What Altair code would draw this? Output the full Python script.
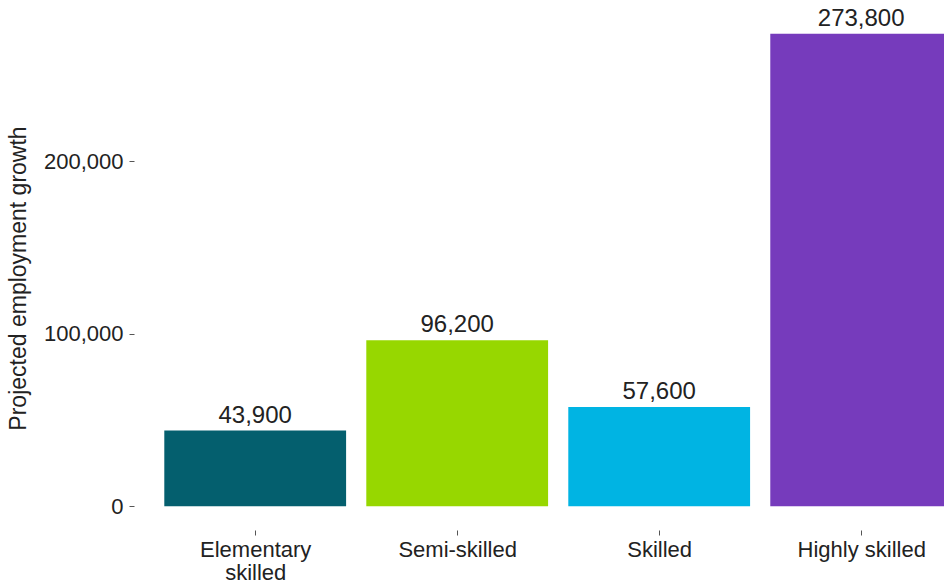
import altair as alt
import pandas as pd
import json

categories = ["Elementary\nskilled", "Semi-skilled", "Skilled", "Highly skilled"]
values = [43900, 96200, 57600, 273800]
value_labels = ["43,900", "96,200", "57,600", "273,800"]
colors = ["#045F6E", "#97D700", "#00B4E3", "#763BBC"]
y_ticks = [0, 100000, 200000]

df = pd.DataFrame({
    "idx": list(range(len(categories))),
    "cat": categories,
    "value": values,
    "label": value_labels,
    "color": colors,
})
df["x0"] = df["idx"] - 0.45
df["x1"] = df["idx"] + 0.45

label_arr = json.dumps([c.split("\n") for c in categories])
label_expr = f"{label_arr}[datum.value]"

FONT = "Liberation Sans"

xscale = alt.Scale(domain=[-0.6, 3.41], nice=False, zero=False)
yscale = alt.Scale(domain=[-13690, 287490], nice=False, zero=False)

xaxis = alt.Axis(values=list(range(len(categories))), labelExpr=label_expr,
                 title=None, domain=False, grid=False, tickSize=5,
                 tickColor="#555555", labelFontSize=22, labelColor="#222222",
                 labelFont=FONT, labelPadding=4, labelLineHeight=23,
                 labelBaseline="top")
yaxis = alt.Axis(values=y_ticks, format=",.0f", title="Projected employment growth",
                 domain=False, grid=False, tickSize=5, tickColor="#555555",
                 labelFontSize=22, labelColor="#222222", labelFont=FONT,
                 labelPadding=6, titleFont=FONT, titleFontSize=23,
                 titleFontWeight="normal", titleColor="#222222",
                 titleX=-116, titleY=268, titleAngle=-90,
                 titleAlign="center", titleBaseline="middle")

bars = alt.Chart(df).mark_bar(clip=True).encode(
    x=alt.X("x0:Q", scale=xscale, axis=xaxis),
    x2="x1:Q",
    y=alt.Y("value:Q", scale=yscale, axis=yaxis),
    y2=alt.datum(0),
    color=alt.Color("color:N", scale=None),
)

text = alt.Chart(df).mark_text(
    font=FONT, fontSize=24, color="#222222", baseline="alphabetic", dy=-8
).encode(
    x=alt.X("idx:Q", scale=xscale, axis=xaxis),
    y=alt.Y("value:Q", scale=yscale, axis=yaxis),
    text="label:N",
)

chart = alt.layer(bars, text).properties(
    width=810, height=520,
    autosize=alt.AutoSizeParams(type="none"),
    padding={"left": 134, "top": 10, "right": 0, "bottom": 54},
    background="white",
).configure_view(stroke=None, strokeWidth=0)

chart.save("out.html", embed_options={"renderer": "svg", "actions": False})
